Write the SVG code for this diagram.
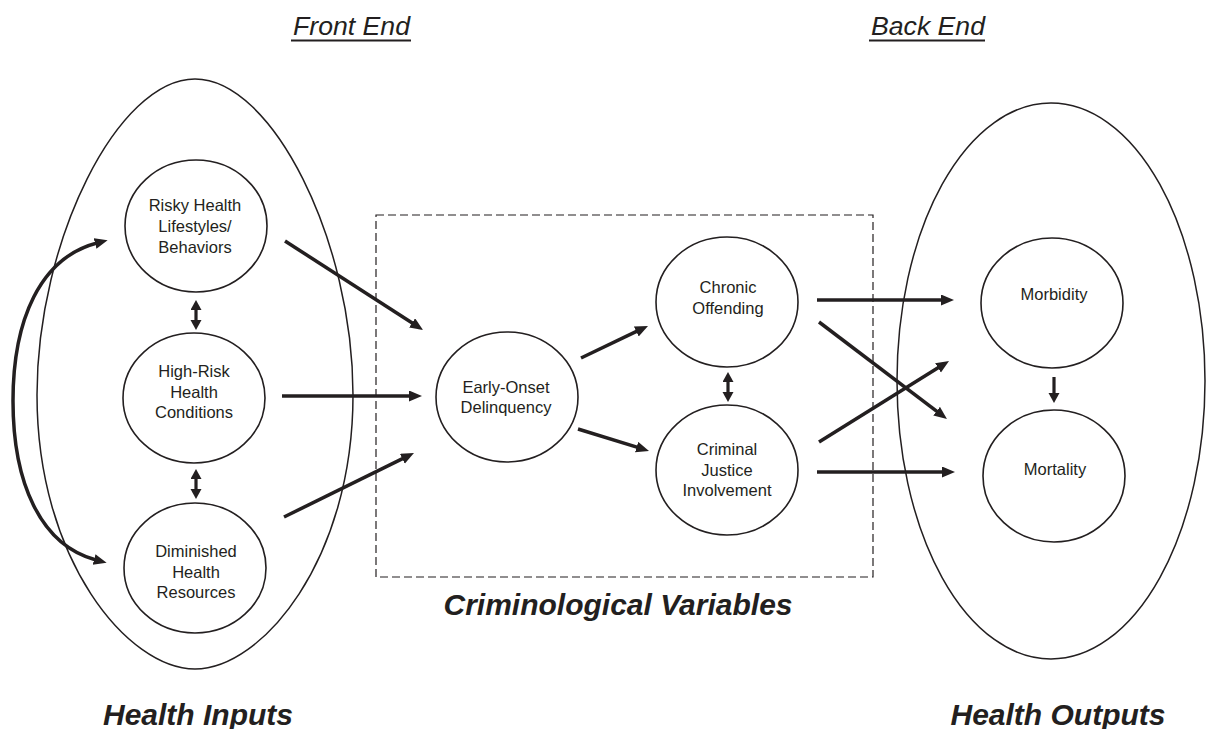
<svg xmlns="http://www.w3.org/2000/svg" width="1206" height="729" viewBox="0 0 1206 729">
<style>
.bg{fill:#ffffff}
.node{fill:#ffffff;stroke:#231f20;stroke-width:1.6}
.big{fill:none;stroke:#231f20;stroke-width:1.5}
.conn{stroke:#231f20;stroke-width:3.5;fill:none}
.dbl{stroke:#231f20;stroke-width:3.2;fill:none}
.lbl{font-family:"Liberation Sans",Arial,sans-serif;font-size:16.5px;fill:#231f20;text-anchor:middle}
.hdr{font-family:"Liberation Sans",Arial,sans-serif;font-size:25px;font-style:italic;fill:#231f20}
.ttl{font-family:"Liberation Sans",Arial,sans-serif;font-size:30px;font-style:italic;font-weight:bold;fill:#231f20;text-anchor:middle}
.dash{fill:none;stroke:#231f20;stroke-width:1.2;stroke-dasharray:8 4}
</style>
<defs>
<marker id="ah" markerUnits="userSpaceOnUse" markerWidth="14" markerHeight="12" refX="2" refY="5.5" orient="auto-start-reverse">
<path d="M0,0 L13,5.5 L0,11 z" fill="#231f20"/>
</marker>
<marker id="sh" markerUnits="userSpaceOnUse" markerWidth="12" markerHeight="12" refX="1" refY="5.5" orient="auto-start-reverse">
<path d="M0,0 L10,5.5 L0,11 z" fill="#231f20"/>
</marker>
</defs>
<rect class="bg" x="0" y="0" width="1206" height="729"/>

<g id="group-health-inputs">
<path class="big" d="M195,79 C272,79 353,240 353,395 C353,560 262,669 195,669 C128,669 37,560 37,395 C37,240 118,79 195,79 Z"/>
</g>
<g id="group-health-outputs">
<ellipse class="big" cx="1051" cy="381" rx="154" ry="278"/>
</g>
<g id="group-criminological">
<rect class="dash" x="376" y="215" width="497" height="362"/>
</g>

<g id="connectors">
<line class="conn" x1="285" y1="241" x2="413.8" y2="324" marker-end="url(#ah)"/>
<line class="conn" x1="282" y1="396" x2="411" y2="396" marker-end="url(#ah)"/>
<line class="conn" x1="284" y1="517" x2="404.1" y2="457.9" marker-end="url(#ah)"/>
<line class="conn" x1="581" y1="358" x2="638.1" y2="330.7" marker-end="url(#ah)"/>
<line class="conn" x1="578" y1="429" x2="638.5" y2="447.7" marker-end="url(#ah)"/>
<line class="conn" x1="817" y1="300" x2="943" y2="300" marker-end="url(#ah)"/>
<line class="conn" x1="819" y1="322" x2="938.2" y2="412.4" marker-end="url(#ah)"/>
<line class="conn" x1="819" y1="442" x2="939.7" y2="366.8" marker-end="url(#ah)"/>
<line class="conn" x1="817" y1="472" x2="944" y2="472" marker-end="url(#ah)"/>
<line class="dbl" x1="1054" y1="377" x2="1054" y2="394" marker-end="url(#sh)"/>
<line class="dbl" x1="196" y1="309" x2="196" y2="321" marker-start="url(#sh)" marker-end="url(#sh)"/>
<line class="dbl" x1="196" y1="478" x2="196" y2="490" marker-start="url(#sh)" marker-end="url(#sh)"/>
<line class="dbl" x1="728" y1="381" x2="728" y2="393" marker-start="url(#sh)" marker-end="url(#sh)"/>
<path class="conn" d="M97,243 C40,258 13,320 13,401 C13,482 40,545 96,560" marker-start="url(#ah)" marker-end="url(#ah)"/>
</g>

<g id="node-risky">
<ellipse class="node" cx="196" cy="226" rx="71" ry="66"/>
<text class="lbl" x="195" y="211">Risky Health</text>
<text class="lbl" x="195" y="232">Lifestyles/</text>
<text class="lbl" x="195" y="253">Behaviors</text>
</g>
<g id="node-highrisk">
<ellipse class="node" cx="194" cy="398" rx="71" ry="65"/>
<text class="lbl" x="194" y="377">High-Risk</text>
<text class="lbl" x="194" y="398">Health</text>
<text class="lbl" x="194" y="418">Conditions</text>
</g>
<g id="node-diminished">
<ellipse class="node" cx="195" cy="568" rx="71" ry="65"/>
<text class="lbl" x="196" y="557">Diminished</text>
<text class="lbl" x="196" y="578">Health</text>
<text class="lbl" x="196" y="598">Resources</text>
</g>
<g id="node-early">
<ellipse class="node" cx="507" cy="397" rx="71" ry="65"/>
<text class="lbl" x="506" y="393">Early-Onset</text>
<text class="lbl" x="506" y="413">Delinquency</text>
</g>
<g id="node-chronic">
<ellipse class="node" cx="727" cy="302" rx="71" ry="65"/>
<text class="lbl" x="728" y="293">Chronic</text>
<text class="lbl" x="728" y="314">Offending</text>
</g>
<g id="node-criminal">
<ellipse class="node" cx="727" cy="470" rx="71" ry="65"/>
<text class="lbl" x="727" y="455">Criminal</text>
<text class="lbl" x="727" y="476">Justice</text>
<text class="lbl" x="727" y="496">Involvement</text>
</g>
<g id="node-morbidity">
<ellipse class="node" cx="1052" cy="303" rx="71" ry="65"/>
<text class="lbl" x="1054" y="300">Morbidity</text>
</g>
<g id="node-mortality">
<ellipse class="node" cx="1054" cy="476" rx="71" ry="66"/>
<text class="lbl" x="1055" y="475">Mortality</text>
</g>

<g id="labels">
<text class="hdr" x="293" y="35" textLength="117" lengthAdjust="spacingAndGlyphs">Front End</text>
<line x1="291" y1="40.5" x2="411" y2="40.5" stroke="#231f20" stroke-width="2"/>
<text class="hdr" x="871" y="35" textLength="114" lengthAdjust="spacingAndGlyphs">Back End</text>
<line x1="869" y1="40.5" x2="985" y2="40.5" stroke="#231f20" stroke-width="2"/>
<text class="ttl" x="618" y="615">Criminological Variables</text>
<text class="ttl" x="198" y="725">Health Inputs</text>
<text class="ttl" x="1058" y="725">Health Outputs</text>
</g>
</svg>
